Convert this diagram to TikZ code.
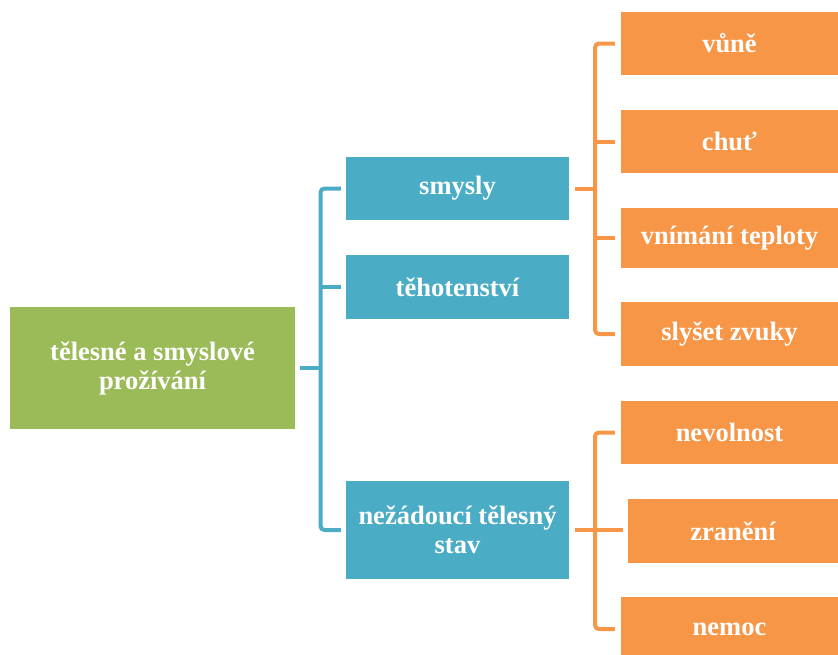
\documentclass[tikz,border=0pt]{standalone}
\usepackage{fontspec}
\setmainfont{Liberation Serif}
\definecolor{cgreen}{HTML}{9BBB59}
\definecolor{cblue}{HTML}{4BACC6}
\definecolor{corange}{HTML}{F79646}
\begin{document}
\begin{tikzpicture}[x=1pt,y=1pt,
  box/.style={inner sep=2pt, align=center, text=white, font=\fontsize{26.5}{29}\selectfont\bfseries},
  gbox/.style={box, fill=cgreen, minimum width=285pt, minimum height=122pt},
  bbox/.style={box, fill=cblue, minimum width=223pt},
  obox/.style={box, fill=corange, minimum width=217pt},
  bline/.style={draw=cblue, line width=4pt, rounded corners=4pt},
  oline/.style={draw=corange, line width=4pt, rounded corners=4pt}]
\useasboundingbox (0,0) rectangle (838,-654);
\node[gbox] (root) at (152.5,-368) {tělesné a smyslové\\prožívání};
\node[bbox, minimum height=63pt] (smysly) at (457.5,-188.5) {smysly};
\node[bbox, minimum height=64pt] (teh) at (457.5,-287) {těhotenství};
\node[bbox, minimum height=98pt] (stav) at (457.5,-530) {nežádoucí tělesný\\stav};
\node[obox, minimum height=63pt] (vune) at (729.5,-43.5) {vůně};
\node[obox, minimum height=63pt] (chut) at (729.5,-141.5) {chuť};
\node[obox, minimum height=60pt] (tepl) at (729.5,-238) {vnímání teploty};
\node[obox, minimum height=64pt] (zvuky) at (729.5,-334) {slyšet zvuky};
\node[obox, minimum height=63pt] (nevol) at (729.5,-432.5) {nevolnost};
\node[obox, minimum height=64pt, minimum width=210pt] (zran) at (733,-531) {zranění};
\node[obox, minimum height=64pt] (nemoc) at (729.5,-629) {nemoc};
% blue connectors
\coordinate (bx) at (320.5,0);
\draw[bline] ([xshift=-5pt]smysly.west) -- (smysly.west -| bx) -- (stav.west -| bx) -- ([xshift=-5pt]stav.west);
\draw[bline, rounded corners=0pt] ([xshift=5pt]root.east) -- (root.east -| bx);
\draw[bline, rounded corners=0pt] (teh.west -| bx) -- ([xshift=-5pt]teh.west);
% orange connectors for smysly
\coordinate (ox) at (595,0);
\draw[oline] ([xshift=-6pt]vune.west) -- (vune.west -| ox) -- (zvuky.west -| ox) -- ([xshift=-6pt]zvuky.west);
\draw[oline, rounded corners=0pt] ([xshift=6pt]smysly.east) -- (smysly.east -| ox);
\draw[oline, rounded corners=0pt] (chut.west -| ox) -- ([xshift=-6pt]chut.west);
\draw[oline, rounded corners=0pt] (tepl.west -| ox) -- ([xshift=-6pt]tepl.west);
% orange connectors for stav
\draw[oline] ([xshift=-6pt]nevol.west) -- (nevol.west -| ox) -- (nemoc.west -| ox) -- ([xshift=-6pt]nemoc.west);
\coordinate (zt) at ([xshift=-5pt]zran.west);
\draw[oline, rounded corners=0pt] ([xshift=6pt]stav.east) -- (stav.east -| zt);
\end{tikzpicture}
\end{document}
